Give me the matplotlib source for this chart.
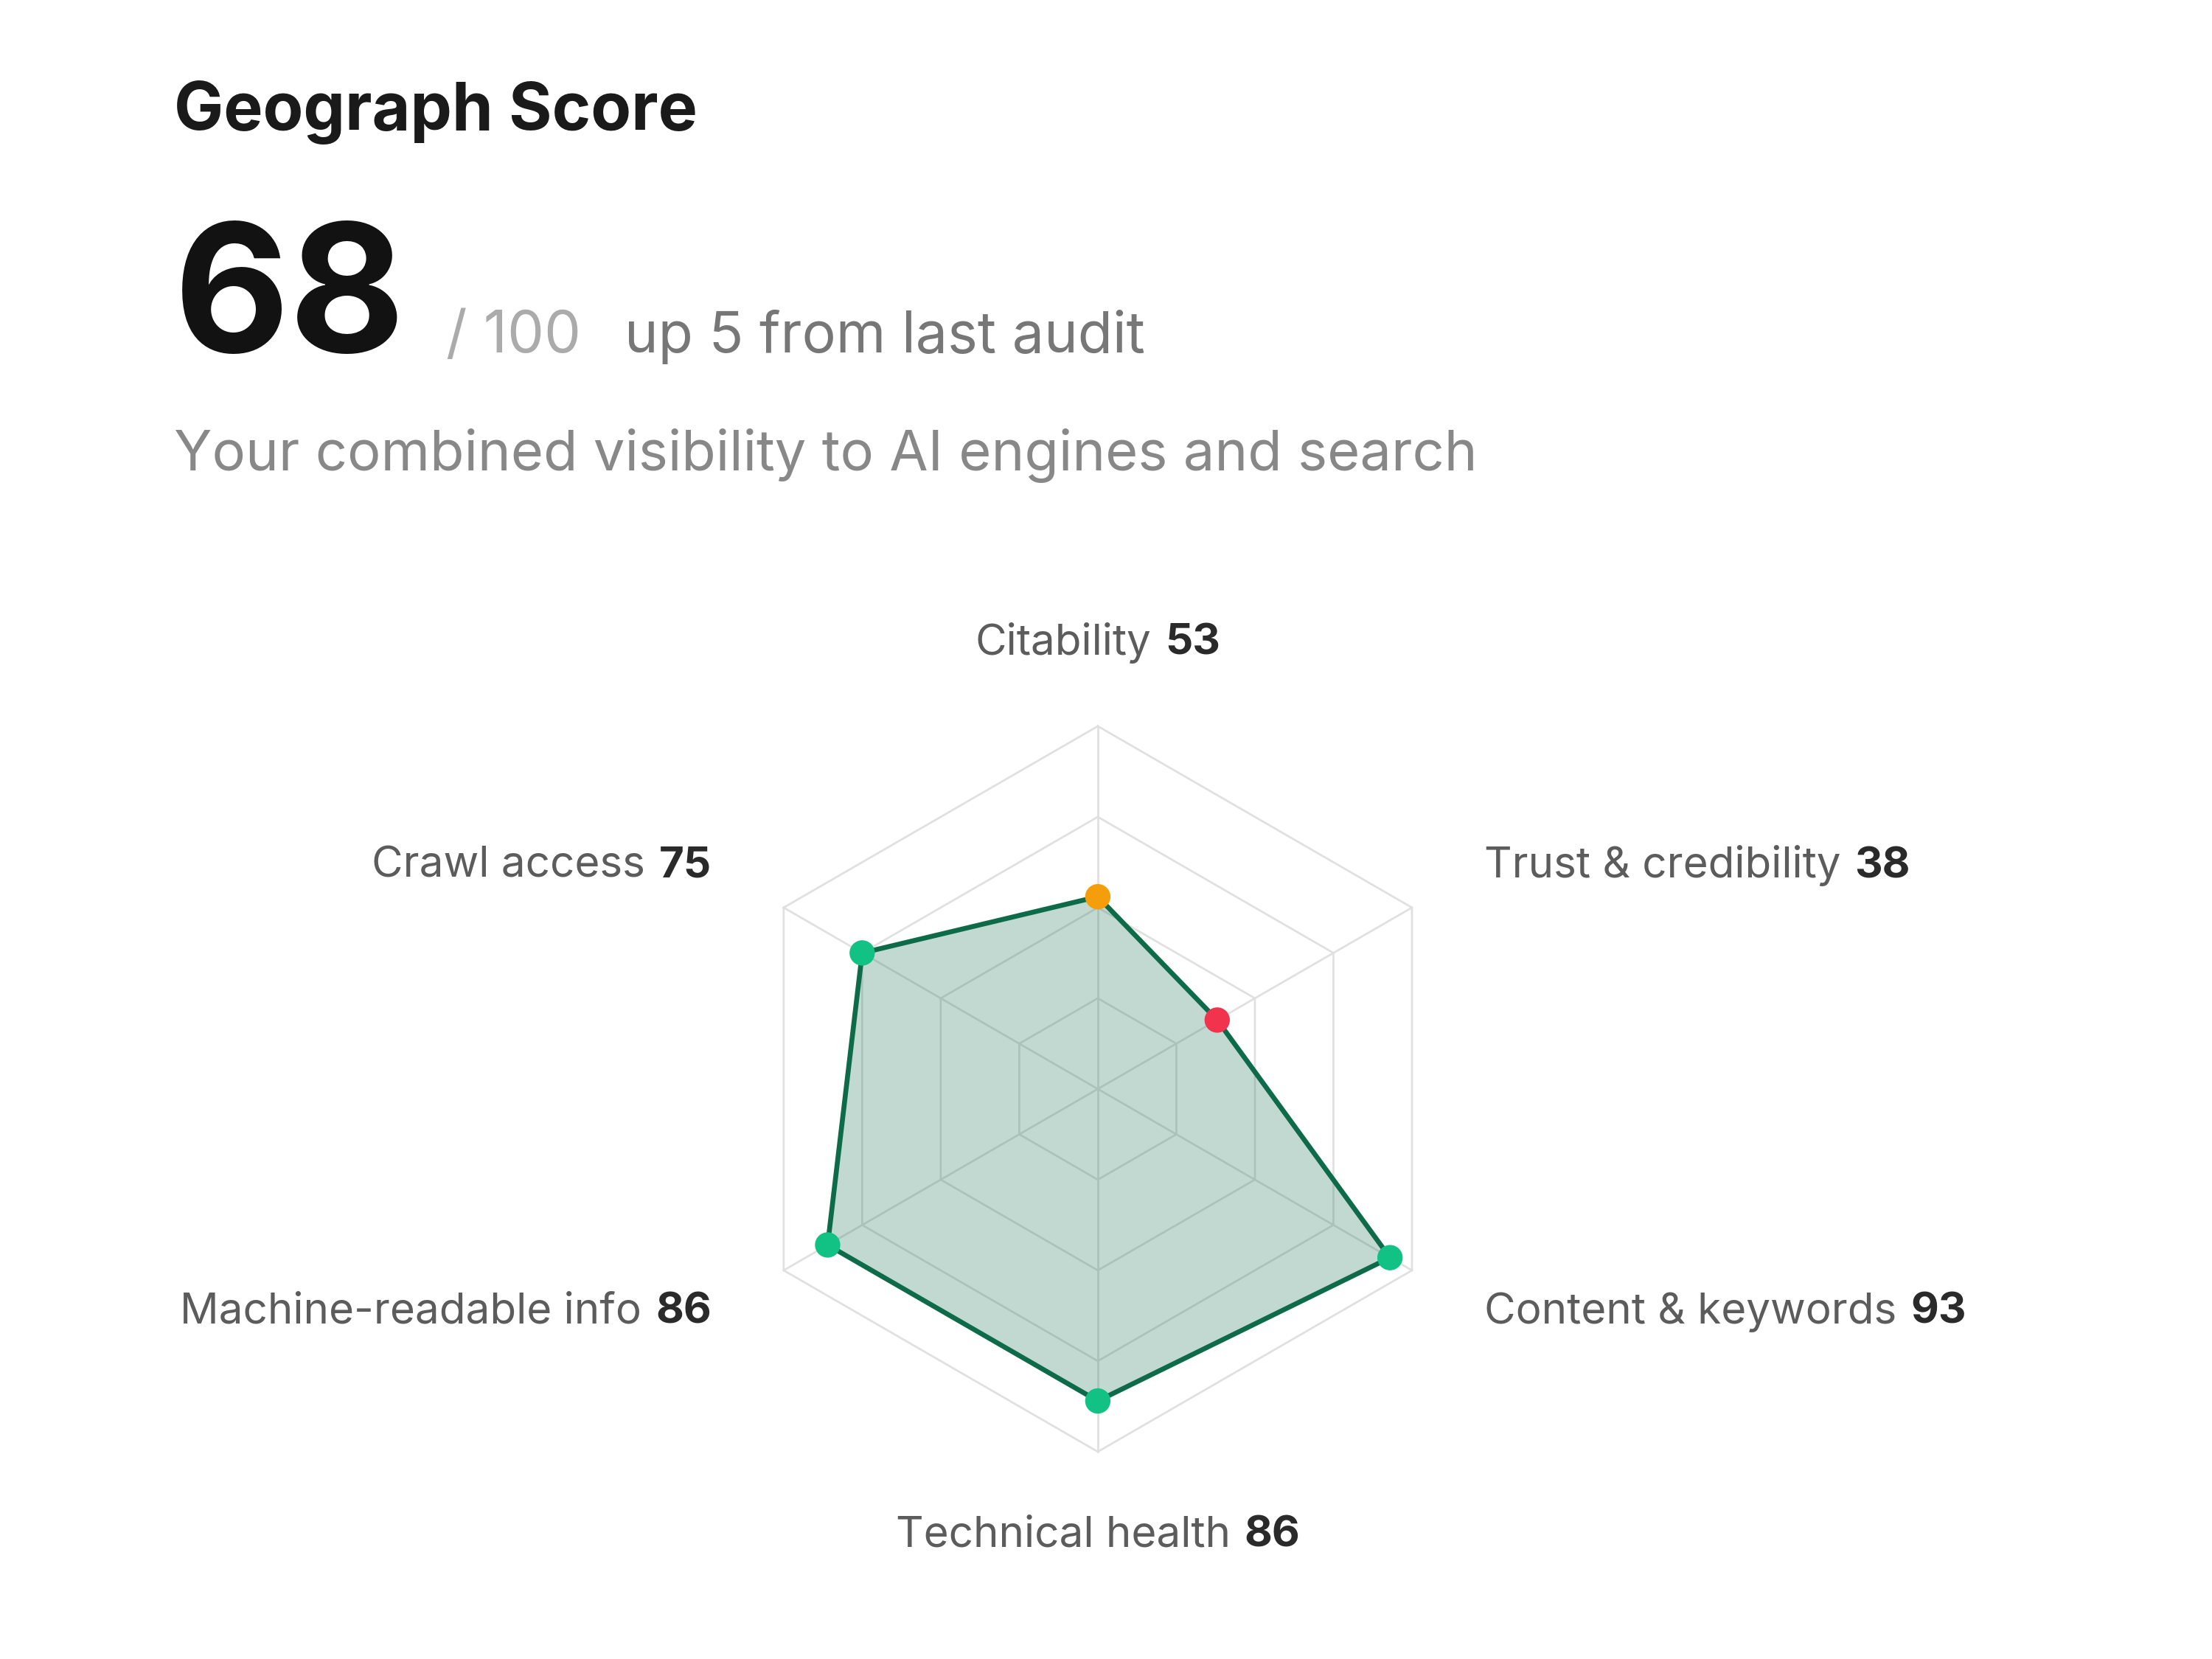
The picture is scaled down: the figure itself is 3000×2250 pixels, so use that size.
import numpy as np
import matplotlib
matplotlib.use('Agg')
import matplotlib.pyplot as plt
from matplotlib.offsetbox import TextArea, HPacker, AnnotationBbox

plt.rcParams['font.family'] = ['Inter', 'DejaVu Sans']

# data
categories = ['Citability', 'Trust & credibility', 'Content & keywords',
              'Technical health', 'Machine-readable info', 'Crawl access']
scores = [53, 38, 93, 86, 86, 75]
ring_levels = [25, 50, 75, 100]

overall_score = 68
score_max = 100
change_text = 'up 5 from last audit'
title = 'Geograph Score'
subtitle = 'Your combined visibility to AI engines and search'

line_green = '#0e6b4a'
grid_gray = '#e0e0e0'


def point_color(v):
    # green = good, orange = ok, red = weak
    if v >= 70:
        return '#12c184'
    if v >= 50:
        return '#f59e0b'
    return '#f2334d'


n = len(categories)
angles = np.pi / 2 - np.arange(n) * 2 * np.pi / n
closed = np.append(angles, angles[0])

fig = plt.figure(figsize=(10, 7.5), dpi=300)
fig.patch.set_facecolor('white')

# header
fig.text(0.0785, 0.922, title, fontsize=21.5, fontweight='bold', color='#1a1a1a', va='baseline')
fig.text(0.0785, 0.7875, str(overall_score), fontsize=58, fontweight='bold', color='#121212', va='baseline')
fig.text(0.2017, 0.7875, '/ ' + str(score_max), fontsize=19, color='#ababab', va='baseline')
fig.text(0.2823, 0.7875, change_text, fontsize=18.5, color='#777777', va='baseline')
fig.text(0.0785, 0.717, subtitle, fontsize=18.2, color='#888888', va='baseline')

# radar
ax = fig.add_axes([0.2503, 0.0156, 0.492, 0.656])
ax.set_xlim(-1.5, 1.5)
ax.set_ylim(-1.5, 1.5)
ax.set_aspect('equal')
ax.axis('off')

for lvl in ring_levels:
    r = lvl / score_max
    ax.plot(r * np.cos(closed), r * np.sin(closed), color=grid_gray, lw=0.65, zorder=1)
for a in angles:
    ax.plot([0, np.cos(a)], [0, np.sin(a)], color=grid_gray, lw=0.65, zorder=1)

r = np.array(scores) / score_max
px = r * np.cos(angles)
py = r * np.sin(angles)
ax.fill(px, py, color=line_green, alpha=0.25, lw=0, zorder=2)
ax.plot(np.append(px, px[0]), np.append(py, py[0]), color=line_green, lw=1.6, zorder=3)
ax.scatter(px, py, s=68, c=[point_color(v) for v in scores], lw=0, zorder=4)

label_r = 1.23
for cat, v, a in zip(categories, scores, angles):
    c = np.cos(a)
    if abs(c) < 0.01:
        ha = 0.5
    elif c > 0:
        ha = 0
    else:
        ha = 1
    box = HPacker(children=[TextArea(cat, textprops=dict(color='#5c5c5c', fontsize=14)),
                            TextArea(str(v), textprops=dict(color='#2a2a2a', fontsize=14, fontweight='bold'))],
                  align='baseline', pad=0, sep=4.5)
    ab = AnnotationBbox(box, (label_r * c, label_r * np.sin(a)), box_alignment=(ha, 0.5),
                        frameon=False, pad=0, annotation_clip=False)
    ax.add_artist(ab)

fig.savefig('out.png', dpi=300)
